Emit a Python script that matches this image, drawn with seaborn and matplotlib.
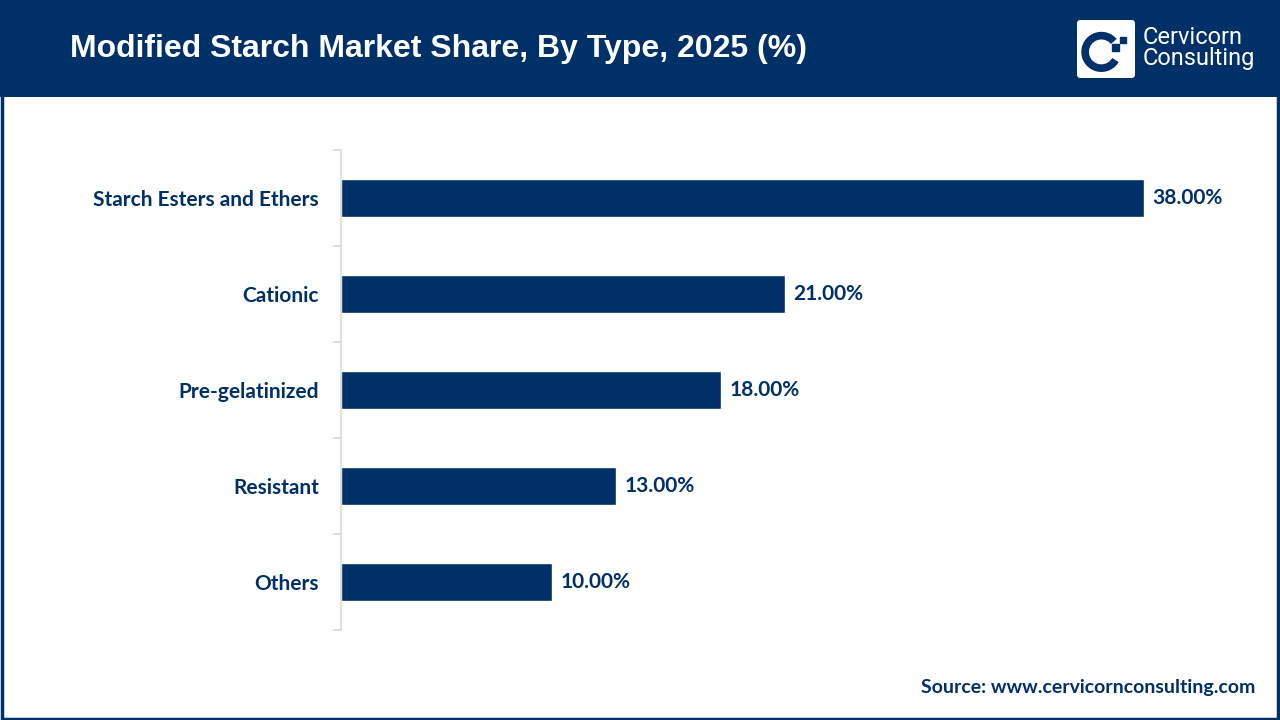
import matplotlib
matplotlib.use("Agg")
import matplotlib.pyplot as plt
from matplotlib.patches import Rectangle, FancyBboxPatch, Arc
import seaborn as sns
import pandas as pd
import numpy as np

NAVY = "#003068"

categories = ["Starch Esters and Ethers", "Cationic", "Pre-gelatinized", "Resistant", "Others"]
shares = [38.0, 21.0, 18.0, 13.0, 10.0]

title = "Modified Starch Market Share, By Type, 2025 (%)"
source = "Source: www.cervicornconsulting.com"

df = pd.DataFrame({"type": categories, "share": shares})

sns.set_theme(style="white")
plt.rcParams["font.family"] = ["Lato", "DejaVu Sans"]

fig = plt.figure(figsize=(12.8, 7.2), dpi=100)
fig.patch.set_facecolor("white")

# header band
fig.patches.append(Rectangle((0, 1 - 97 / 720), 1, 97 / 720, transform=fig.transFigure,
                             facecolor=NAVY, edgecolor="none", zorder=0))
# outer border
fig.patches.append(Rectangle((0.0012, 0.0018), 0.9976, 0.996, transform=fig.transFigure,
                             facecolor="none", edgecolor=NAVY, linewidth=2.5, zorder=5))

fig.text(70 / 1280, 1 - 49 / 720, title, color="white", fontsize=23, fontweight="bold",
         family=["Liberation Sans", "DejaVu Sans"], va="center", ha="left")

# logo
lax = fig.add_axes([1077 / 1280, 1 - 78 / 720, 58 / 1280, 58 / 720], zorder=3)
lax.set_xlim(0, 1)
lax.set_ylim(0, 1)
lax.axis("off")
lax.add_patch(FancyBboxPatch((0, 0), 1, 1, boxstyle="round,pad=0,rounding_size=0.06",
                             facecolor="white", edgecolor="none"))
lax.add_patch(Arc((0.42, 0.45), 0.56, 0.56, theta1=40, theta2=330, color=NAVY, linewidth=5.5))
lax.add_patch(Rectangle((0.60, 0.46), 0.12, 0.12, color=NAVY))
lax.add_patch(Rectangle((0.74, 0.60), 0.10, 0.10, color=NAVY))
fig.text(1143 / 1280, 1 - 37 / 720, "Cervicorn", color="white", fontsize=17,
         family=["Roboto", "DejaVu Sans"], va="center", ha="left")
fig.text(1143 / 1280, 1 - 59 / 720, "Consulting", color="white", fontsize=17,
         family=["Roboto", "DejaVu Sans"], va="center", ha="left")

# bar chart
ax = fig.add_axes([341 / 1280, 1 - 630 / 720, 899 / 1280, 480 / 720])
sns.barplot(data=df, x="share", y="type", color=NAVY, width=0.4, saturation=1, ax=ax)
ax.set_xlim(0, 42.55)
ax.set_ylim(4.5, -0.5)
ax.set_xlabel("")
ax.set_ylabel("")
ax.set_xticks([])
for side in ["top", "right", "bottom"]:
    ax.spines[side].set_visible(False)
ax.spines["left"].set_color("#d9d9d9")
ax.spines["left"].set_linewidth(1.2)
ax.tick_params(axis="y", which="major", length=0, pad=16, labelsize=15, labelcolor=NAVY)
for lbl in ax.get_yticklabels():
    lbl.set_fontweight("bold")
ax.set_yticks(np.arange(-0.5, len(categories)), minor=True)
ax.tick_params(axis="y", which="minor", length=6, color="#d9d9d9", width=1.2, left=True)

for i, v in enumerate(shares):
    ax.text(v + 0.4, i, f"{v:.2f}%", va="center", ha="left", fontsize=15,
            fontweight="bold", color=NAVY)

fig.text(1255 / 1280, 1 - 687 / 720, source, color=NAVY, fontsize=14, fontweight="bold",
         ha="right", va="center")

fig.savefig("out.png", dpi=100)
